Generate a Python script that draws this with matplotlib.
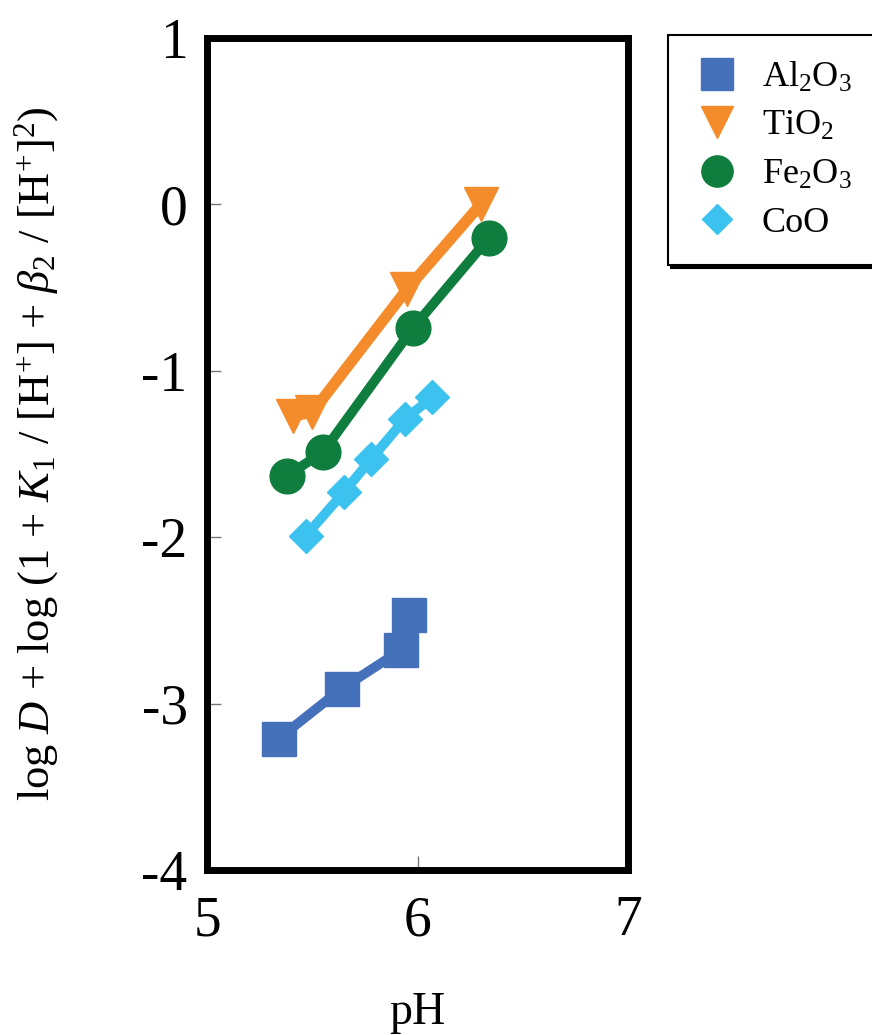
import matplotlib
matplotlib.use("Agg")
import matplotlib.pyplot as plt

plt.rcParams["font.family"] = ["Liberation Serif", "DejaVu Serif"]
plt.rcParams["mathtext.fontset"] = "custom"
plt.rcParams["mathtext.rm"] = "Liberation Serif"
plt.rcParams["mathtext.it"] = "Liberation Serif:italic"

al_x = [5.34, 5.64, 5.92, 5.96]
al_y = [-3.21, -2.91, -2.68, -2.47]
ti_x = [5.41, 5.50, 5.95, 6.30]
ti_y = [-1.27, -1.25, -0.51, 0.00]
fe_x = [5.38, 5.55, 5.98, 6.34]
fe_y = [-1.63, -1.49, -0.74, -0.20]
co_x = [5.47, 5.65, 5.78, 5.94, 6.07]
co_y = [-1.99, -1.73, -1.53, -1.29, -1.16]

c_al = "#4570BA"
c_ti = "#F58C2B"
c_fe = "#0E7D3E"
c_co = "#3BC2EF"

fig = plt.figure(figsize=(8.72, 10.35), dpi=100)
ax = fig.add_axes([0.2374, 0.1594, 0.4828, 0.8039])

ax.plot(al_x, al_y, "s-", color=c_al, lw=7, ms=25, label=r"Al$_2$O$_3$")
ax.plot(ti_x, ti_y, "v-", color=c_ti, lw=8, ms=25, label=r"TiO$_2$")
ax.plot(fe_x, fe_y, "o-", color=c_fe, lw=7, ms=25, label=r"Fe$_2$O$_3$")
ax.plot(co_x, co_y, "D-", color=c_co, lw=7, ms=17, label="CoO")

ax.set_xlim(5, 7)
ax.set_ylim(-4, 1)
ax.set_xticks([5, 6, 7])
ax.set_yticks([-4, -3, -2, -1, 0, 1])
ax.set_yticklabels(["-4", "-3", "-2", "-1", "0", "1"])
ax.tick_params(direction="in", length=10, width=1, color="#777777",
               labelsize=40)
ax.tick_params(axis="x", pad=18)
ax.tick_params(axis="y", pad=14)
for s in ax.spines.values():
    s.set_linewidth(5)
    s.set_color("black")

ax.set_xlabel("pH", fontsize=33, labelpad=32)
ax.set_ylabel(r"log $D$ + log (1 + $K_1$ / [H$^{+}$] + $\beta_2$ / [H$^{+}$]$^{2}$)",
              fontsize=32, labelpad=58)

leg = fig.legend(loc="upper left", bbox_to_anchor=(0.766, 0.966),
                 borderaxespad=0, fontsize=26, markerscale=0.9,
                 handlelength=1.3, handletextpad=0.6, borderpad=0.7,
                 labelspacing=0.42, fancybox=False, edgecolor="black",
                 framealpha=1, shadow={"color": "black", "alpha": 1})
leg.get_frame().set_linewidth(1.5)
for h in leg.legend_handles:
    h.set_linestyle("none")

fig.savefig("out.png", dpi=100, facecolor="white")
